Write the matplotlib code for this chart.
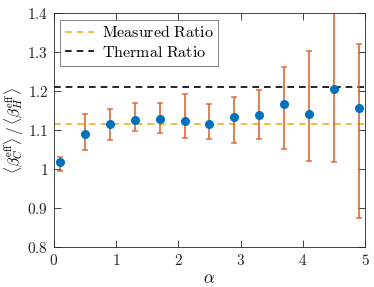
import matplotlib
matplotlib.use("Agg")
import matplotlib.pyplot as plt
from matplotlib.ticker import FuncFormatter

plt.rcParams['mathtext.fontset'] = 'cm'
plt.rcParams['font.family'] = 'serif'
plt.rcParams['font.serif'] = ['DejaVu Serif']

alpha = [0.1, 0.5, 0.9, 1.3, 1.7, 2.1, 2.5, 2.9, 3.3, 3.7, 4.1, 4.5, 4.9]
ratio = [1.018, 1.090, 1.115, 1.126, 1.128, 1.125, 1.115, 1.134, 1.140, 1.167, 1.142, 1.206, 1.156]
err_hi = [1.031, 1.141, 1.154, 1.169, 1.169, 1.192, 1.168, 1.186, 1.203, 1.261, 1.304, 1.404, 1.320]
err_lo = [0.996, 1.049, 1.075, 1.098, 1.092, 1.081, 1.077, 1.068, 1.077, 1.052, 1.021, 1.019, 0.876]
measured_ratio = 1.116
thermal_ratio = 1.212

fig = plt.figure(figsize=(3.74, 2.87), dpi=100)
ax = fig.add_axes([0.144, 0.138, 0.832, 0.816])

yerr = [[r - l for r, l in zip(ratio, err_lo)], [h - r for r, h in zip(ratio, err_hi)]]
ax.errorbar(alpha, ratio, yerr=yerr, fmt='none', ecolor='#D95319', elinewidth=1.4,
            capsize=2.5, capthick=1.2, alpha=0.75, zorder=2)
ax.plot(alpha, ratio, 'o', color='#0072BD', markersize=5.5, zorder=3)
ax.axhline(measured_ratio, color='#EDB120', ls=(0, (4, 3)), lw=1.2, label='Measured Ratio', zorder=1)
ax.axhline(thermal_ratio, color='black', ls=(0, (4, 3)), lw=1.2, label='Thermal Ratio', zorder=1)

ax.set_xlim(0, 5)
ax.set_ylim(0.8, 1.4)
ax.set_xticks([0, 1, 2, 3, 4, 5])
ax.set_yticks([0.8, 0.9, 1.0, 1.1, 1.2, 1.3, 1.4])

def fmt(v, pos):
    return r'$%s$' % ('%g' % round(v, 2))
ax.xaxis.set_major_formatter(FuncFormatter(fmt))
ax.yaxis.set_major_formatter(FuncFormatter(fmt))
ax.tick_params(direction='in', length=5, width=0.6, color='#262626', labelsize=11,
               top=True, right=True, labelcolor='#262626', pad=4)
for s in ax.spines.values():
    s.set_color('#262626')
    s.set_linewidth(0.6)

ax.set_xlabel(r'$\alpha$', fontsize=12, labelpad=2)
ax.set_ylabel(r'$\langle \beta_C^{\mathrm{eff}}\rangle\,/\,\langle \beta_H^{\mathrm{eff}}\rangle$',
              fontsize=11, labelpad=1)

leg = ax.legend(loc='upper left', frameon=True, fancybox=False,
                edgecolor='#262626', handlelength=1.8, borderaxespad=0.4,
                borderpad=0.3, labelspacing=0.15, handletextpad=0.5,
                prop={'family': 'serif', 'size': 11.5})
leg.get_frame().set_linewidth(0.5)
for t in leg.get_texts():
    t.set_text(r'$\mathrm{%s}$' % t.get_text().replace(' ', r'\ '))

fig.savefig('out.png', dpi=100)
